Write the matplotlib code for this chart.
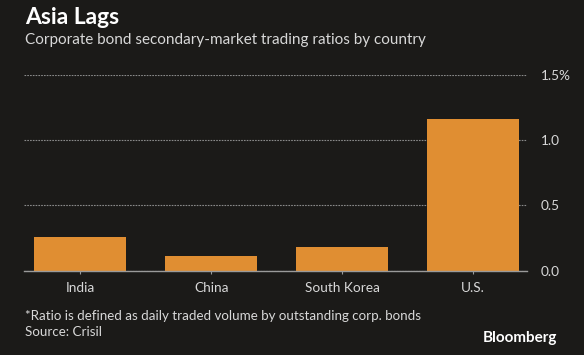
import numpy as np
import matplotlib.pyplot as plt

plt.rcParams['font.family'] = ['Lato', 'DejaVu Sans']

countries = ['India', 'China', 'South Korea', 'U.S.']
ratios = [0.26, 0.11, 0.18, 1.16]
yticks = [0.0, 0.5, 1.0, 1.5]
ylabels = ['0.0', '0.5', '1.0', '1.5%']

bg = '#1b1a18'
bar_col = '#e08e32'
txt = '#d8d8d8'

fig = plt.figure(figsize=(5.84, 3.55), dpi=100, facecolor=bg)
ax = fig.add_axes([24/584, 1 - 270.7/355, (527 - 24)/584, 195.7/355])
ax.set_facecolor(bg)

x = np.arange(len(countries))
ax.bar(x, ratios, width=0.7, color=bar_col, zorder=3)

ax.set_xlim(-0.43, 3.41)
ax.set_ylim(0, 1.5)
ax.set_yticks(yticks)
ax.set_yticklabels(ylabels)
ax.yaxis.tick_right()
ax.set_xticks(x)
ax.set_xticklabels(countries)

for s in ['top', 'left', 'right']:
    ax.spines[s].set_visible(False)
ax.spines['bottom'].set_color('#9a9a9a')
ax.spines['bottom'].set_linewidth(1)
ax.spines['bottom'].set_zorder(4)

ax.grid(axis='y', color='#8a8a8a', linestyle=(0, (1.5, 1)), linewidth=0.8, zorder=1)
ax.tick_params(axis='y', length=0, pad=10, colors=txt, labelsize=9.8)
ax.tick_params(axis='x', length=4, color='#9a9a9a', direction='inout', pad=6, colors=txt, labelsize=9.8)

fig.text(25/584, 1 - 17/355, 'Asia Lags', color='white', fontsize=16.5, fontweight='bold', va='center')
fig.text(25/584, 1 - 40/355, 'Corporate bond secondary-market trading ratios by country', color=txt, fontsize=11, va='center')
fig.text(25/584, 1 - 316/355, '*Ratio is defined as daily traded volume by outstanding corp. bonds', color=txt, fontsize=9.6, va='center')
fig.text(25/584, 1 - 332/355, 'Source: Crisil', color=txt, fontsize=9.6, va='center')
fig.text(557/584, 1 - 338/355, 'Bloomberg', color='white', fontsize=11, fontweight='bold', va='center', ha='right')

plt.savefig('out.png', dpi=100, facecolor=bg)
